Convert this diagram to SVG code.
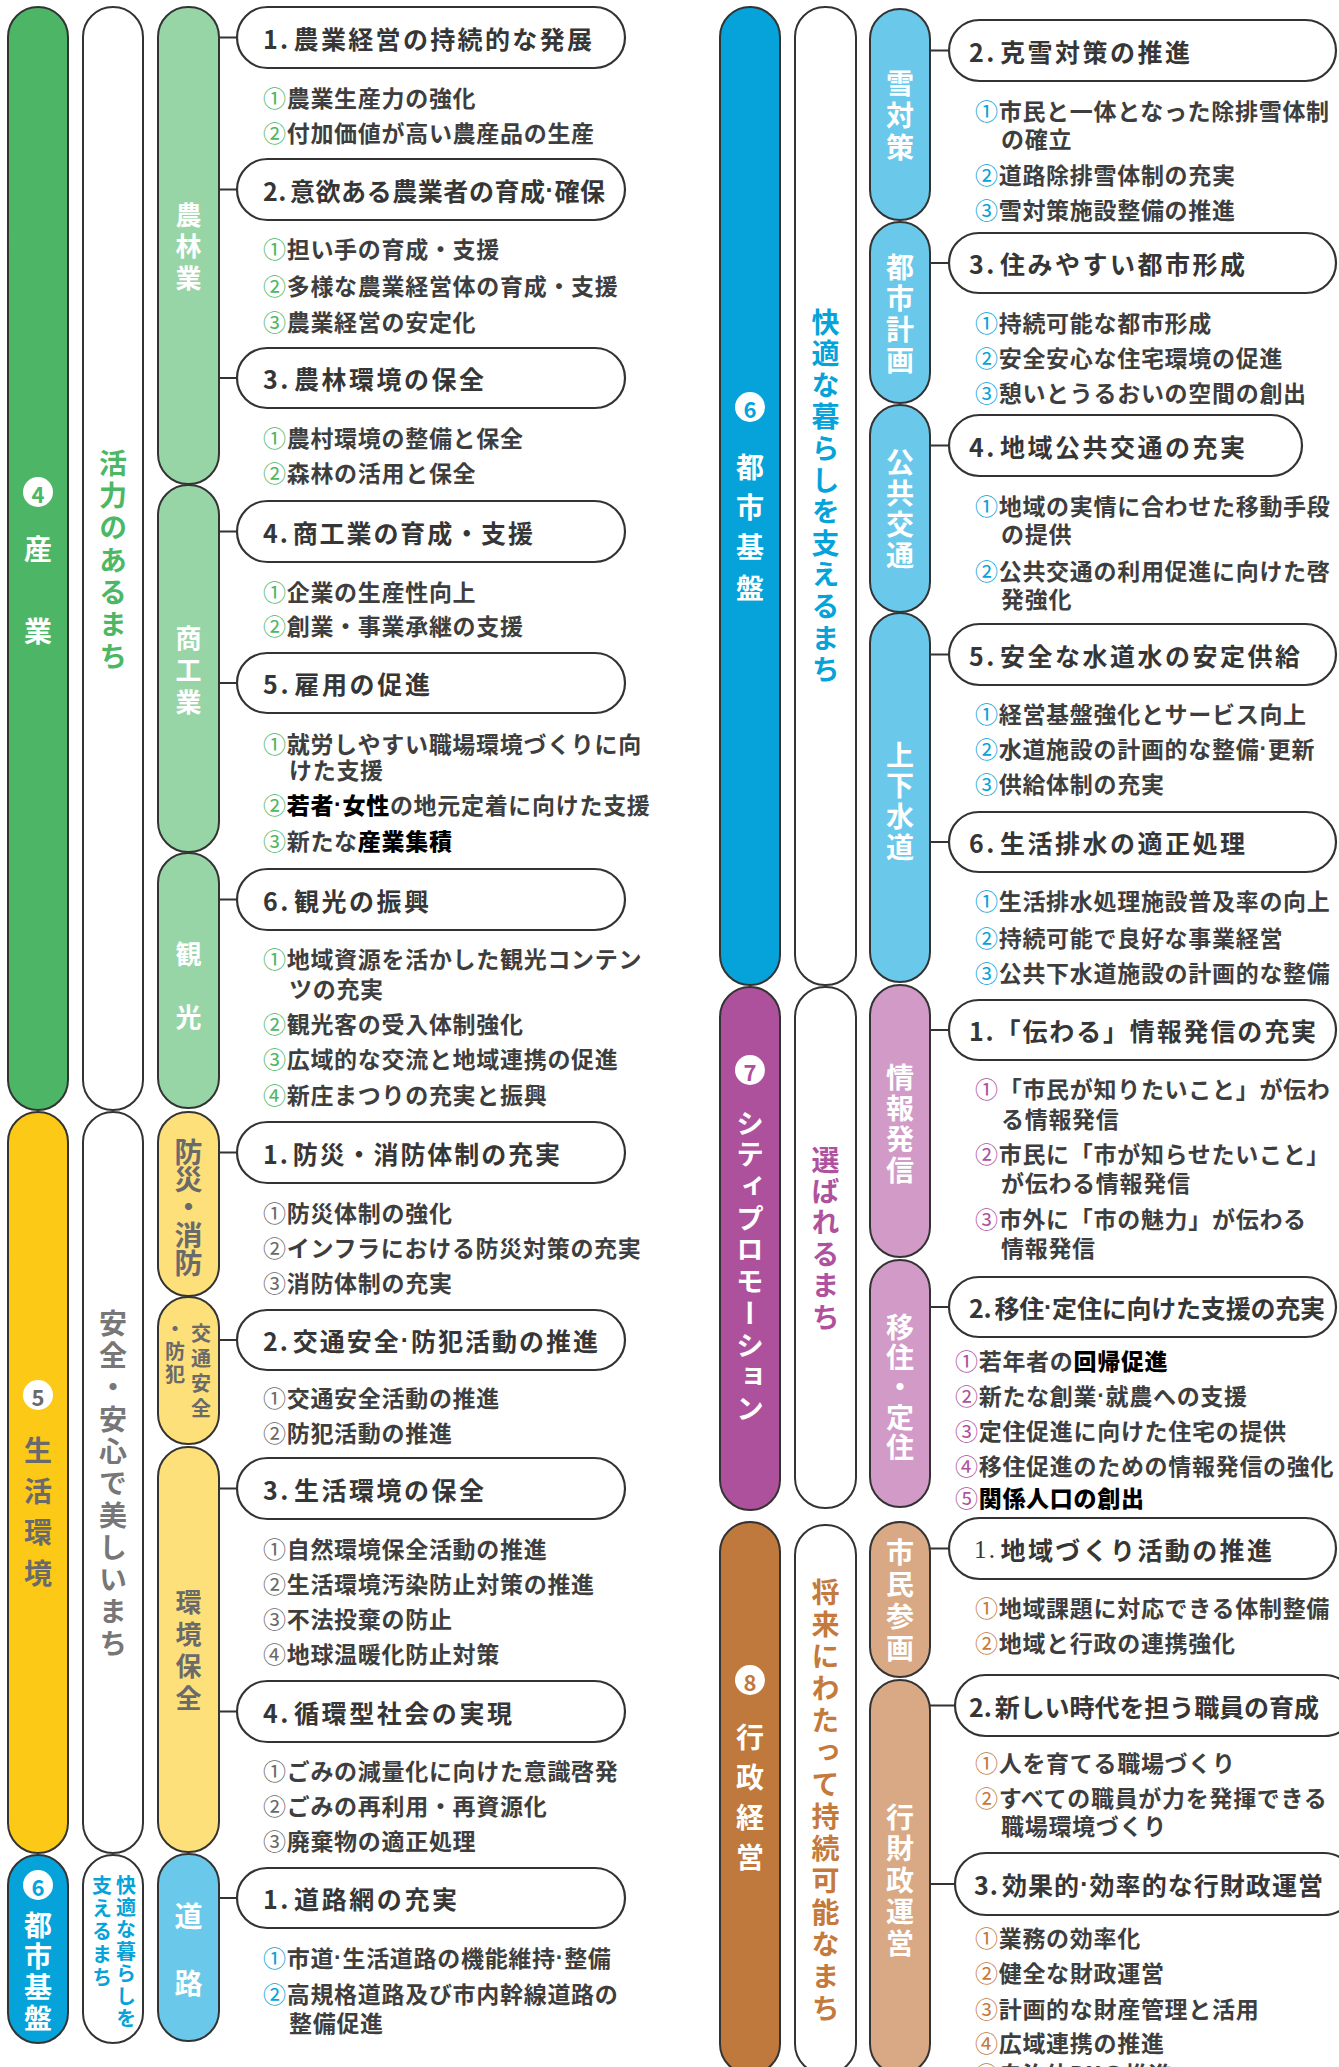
<svg xmlns="http://www.w3.org/2000/svg" width="1339" height="2067" viewBox="0 0 1339 2067">
<style>
text{font-family:"Noto Sans CJK JP","Noto Sans",sans-serif;}
.pill{stroke:#333;stroke-width:2;}
.box{fill:#fff;stroke:#333;stroke-width:2.2;}
.con{stroke:#333;stroke-width:2.2;fill:none;}
.t{font-size:25px;font-weight:700;fill:#363636;dominant-baseline:central;}
.i{font-size:23px;font-weight:700;fill:#3e3e3e;letter-spacing:0.7px;dominant-baseline:central;}
.hb{fill:#000;font-weight:900;}
.cn{font-weight:400;}
.nd{font-family:"Liberation Sans",sans-serif;font-weight:700;}
.g{fill:#4cb765;} .gy{fill:#6a6a6a;} .b{fill:#05a3da;} .p{fill:#b0519e;} .o{fill:#c47a3c;}
.v{writing-mode:vertical-rl;font-weight:700;}
.c{font-weight:700;text-anchor:middle;dominant-baseline:central;}
.w{fill:#fff;}
.num{font-size:22px;font-weight:700;text-anchor:middle;dominant-baseline:central;}
</style>

<!-- ===== LEFT COLUMN PILLS ===== -->
<g id="sec4">
<rect class="pill" x="8" y="7" width="60" height="1103" rx="30" fill="#4db666"/>
<circle cx="38" cy="492" r="15" fill="#fff"/>
<text class="num" x="38" y="493" fill="#4db666">4</text>
<text class="c w" x="38" y="548" font-size="28">産</text>
<text class="c w" x="38" y="630" font-size="28">業</text>
</g>
<g id="goal4">
<rect class="pill" x="83" y="7" width="60" height="1103" rx="30" fill="#fff"/>
<text class="v g" x="113" y="449" font-size="28" letter-spacing="4.3">活力のあるまち</text>
</g>
<g id="noringyo">
<rect class="pill" x="158" y="7" width="61" height="477" rx="30" fill="#98d5a6"/>
<text class="v w" x="188.5" y="202" font-size="26" letter-spacing="5.5">農林業</text>
</g>
<g id="shokogyo">
<rect class="pill" x="158" y="485" width="61" height="367" rx="30" fill="#98d5a6"/>
<text class="v w" x="188.5" y="625" font-size="26" letter-spacing="6">商工業</text>
</g>
<g id="kanko">
<rect class="pill" x="158" y="853" width="61" height="255" rx="30" fill="#98d5a6"/>
<text class="c w" x="188.5" y="952" font-size="26">観</text>
<text class="c w" x="188.5" y="1015" font-size="26">光</text>
</g>

<g id="sec5">
<rect class="pill" x="8" y="1112" width="60" height="741" rx="30" fill="#fdc917"/>
<circle cx="38" cy="1395" r="15" fill="#fff"/>
<text class="num" x="38" y="1396" fill="#6a6a6a">5</text>
<text class="v gy" x="38" y="1436" font-size="28" letter-spacing="13">生活環境</text>
</g>
<g id="goal5">
<rect class="pill" x="83" y="1112" width="60" height="741" rx="30" fill="#fff"/>
<text class="v" x="113" y="1309" font-size="28" letter-spacing="4" fill="#777">安全・安心で美しいまち</text>
</g>
<g id="bosai">
<rect class="pill" x="158" y="1112" width="61" height="184" rx="30" fill="#fde07a"/>
<text class="v gy" x="188.5" y="1138" font-size="28" letter-spacing="-0.25">防災・消防</text>
</g>
<g id="kotsu">
<rect class="pill" x="158" y="1297" width="61" height="147" rx="30" fill="#fde07a"/>
<text class="v gy" x="201" y="1323" font-size="20" letter-spacing="5">交通安全</text>
<text class="v gy" x="175" y="1318" font-size="20" letter-spacing="3">・防犯</text>
</g>
<g id="kankyo">
<rect class="pill" x="158" y="1447" width="61" height="405" rx="30" fill="#fde07a"/>
<text class="v gy" x="188.5" y="1589" font-size="26" letter-spacing="6">環境保全</text>
</g>

<g id="sec6L">
<rect class="pill" x="8" y="1855" width="60" height="188" rx="30" fill="#05a3da"/>
<circle cx="38" cy="1885" r="15" fill="#fff"/>
<text class="num" x="38" y="1886" fill="#05a3da">6</text>
<text class="v w" x="38" y="1911" font-size="28" letter-spacing="3">都市基盤</text>
</g>
<g id="goal6L">
<rect class="pill" x="83" y="1855" width="60" height="188" rx="30" fill="#fff"/>
<text class="v b" x="126" y="1875" font-size="20" letter-spacing="2.2">快適な暮らしを</text>
<text class="v b" x="102" y="1875" font-size="20" letter-spacing="3">支えるまち</text>
</g>
<g id="doro">
<rect class="pill" x="158" y="1854" width="61" height="187" rx="30" fill="#6ac9eb"/>
<text class="c w" x="188.5" y="1915" font-size="28">道</text>
<text class="c w" x="188.5" y="1982" font-size="28">路</text>
</g>

<!-- ===== RIGHT COLUMN PILLS ===== -->
<g id="sec6R">
<rect class="pill" x="720" y="7" width="60" height="978" rx="30" fill="#05a3da"/>
<circle cx="750" cy="407" r="15" fill="#fff"/>
<text class="num" x="750" y="408" fill="#05a3da">6</text>
<text class="v w" x="750" y="453" font-size="28" letter-spacing="12.3">都市基盤</text>
</g>
<g id="goal6R">
<rect class="pill" x="795" y="7" width="61" height="978" rx="30" fill="#fff"/>
<text class="v b" x="825.5" y="308" font-size="28" letter-spacing="3.6">快適な暮らしを支えるまち</text>
</g>
<g id="yuki">
<rect class="pill" x="870" y="9" width="60" height="211" rx="30" fill="#6ac9eb"/>
<text class="v w" x="900" y="69" font-size="28" letter-spacing="4">雪対策</text>
</g>
<g id="toshi">
<rect class="pill" x="870" y="222" width="60" height="181" rx="30" fill="#6ac9eb"/>
<text class="v w" x="900" y="253" font-size="28" letter-spacing="3">都市計画</text>
</g>
<g id="kokyo">
<rect class="pill" x="870" y="405" width="60" height="207" rx="30" fill="#6ac9eb"/>
<text class="v w" x="900" y="448" font-size="28" letter-spacing="3">公共交通</text>
</g>
<g id="suido">
<rect class="pill" x="870" y="613" width="60" height="369" rx="30" fill="#6ac9eb"/>
<text class="v w" x="900" y="741" font-size="28" letter-spacing="2.7">上下水道</text>
</g>

<g id="sec7">
<rect class="pill" x="720" y="987" width="60" height="523" rx="30" fill="#ae519d"/>
<circle cx="750" cy="1070" r="15" fill="#fff"/>
<text class="num" x="750" y="1071" fill="#ae519d">7</text>
<text class="v w" x="750" y="1109" font-size="28" letter-spacing="3.7">シティプロモーション</text>
</g>
<g id="goal7">
<rect class="pill" x="795" y="987" width="61" height="521" rx="30" fill="#fff"/>
<text class="v p" x="825.5" y="1146" font-size="28" letter-spacing="3.4">選ばれるまち</text>
</g>
<g id="joho">
<rect class="pill" x="870" y="985" width="60" height="272" rx="30" fill="#d29ac7"/>
<text class="v w" x="900" y="1063" font-size="28" letter-spacing="3">情報発信</text>
</g>
<g id="iju">
<rect class="pill" x="870" y="1260" width="60" height="247" rx="30" fill="#d29ac7"/>
<text class="v w" x="900" y="1313" font-size="28" letter-spacing="2.2">移住・定住</text>
</g>

<g id="sec8">
<rect class="pill" x="720" y="1522" width="60" height="552" rx="30" fill="#c0793c"/>
<circle cx="750" cy="1680" r="15" fill="#fff"/>
<text class="num" x="750" y="1681" fill="#c0793c">8</text>
<text class="v w" x="750" y="1723" font-size="28" letter-spacing="12">行政経営</text>
</g>
<g id="goal8">
<rect class="pill" x="795" y="1525" width="61" height="549" rx="30" fill="#fff"/>
<text class="v o" x="825.5" y="1578" font-size="28" letter-spacing="4">将来にわたって持続可能なまち</text>
</g>
<g id="shimin">
<rect class="pill" x="870" y="1522" width="60" height="155" rx="30" fill="#d9a985"/>
<text class="v w" x="900" y="1538" font-size="28" letter-spacing="4">市民参画</text>
</g>
<g id="gyozai">
<rect class="pill" x="870" y="1680" width="60" height="394" rx="30" fill="#d9a985"/>
<text class="v w" x="900" y="1803" font-size="28" letter-spacing="3.5">行財政運営</text>
</g>

<!-- ===== CONNECTORS ===== -->
<g id="connectors">
<path class="con" d="M219 37.5H237M219 189.5H237M219 378H237M219 531.5H237M219 683H237M219 899.5H237M219 1152.5H237M219 1340H237M219 1488.5H237M219 1711.5H237M219 1898H237"/>
<path class="con" d="M930 50.5H949M930 263H949M930 445.5H949M930 654.5H949M930 842H949M930 1030H949M930 1307H949M930 1548.5H949M930 1705.5H955M930 1884H955"/>
</g>

<!-- ===== LEFT BOXES + ITEMS ===== -->
<g id="L1"><rect class="box" x="237" y="7" width="388" height="61" rx="30.5"/>
<text class="t" x="263" y="38" textLength="329" lengthAdjust="spacing">1.<tspan dx="3">農業経営の持続的な発展</tspan></text></g>
<g id="L1items">
<text class="i" x="263" y="97"><tspan class="g cn">①</tspan>農業生産力の強化</text>
<text class="i" x="263" y="132"><tspan class="g cn">②</tspan>付加価値が高い農産品の生産</text>
</g>
<g id="L2"><rect class="box" x="237" y="159" width="388" height="61" rx="30.5"/>
<text class="t" x="263" y="190" textLength="342" lengthAdjust="spacing">2.<tspan dx="3">意欲ある農業者の育成</tspan><tspan class="nd">·</tspan>確保</text></g>
<g id="L2items">
<text class="i" x="263" y="248"><tspan class="g cn">①</tspan>担い手の育成・支援</text>
<text class="i" x="263" y="285"><tspan class="g cn">②</tspan>多様な農業経営体の育成・支援</text>
<text class="i" x="263" y="321"><tspan class="g cn">③</tspan>農業経営の安定化</text>
</g>
<g id="L3"><rect class="box" x="237" y="348" width="388" height="60" rx="30"/>
<text class="t" x="263" y="378" textLength="221" lengthAdjust="spacing">3.<tspan dx="3">農林環境の保全</tspan></text></g>
<g id="L3items">
<text class="i" x="263" y="437"><tspan class="g cn">①</tspan>農村環境の整備と保全</text>
<text class="i" x="263" y="472"><tspan class="g cn">②</tspan>森林の活用と保全</text>
</g>
<g id="L4"><rect class="box" x="237" y="501" width="388" height="61" rx="30.5"/>
<text class="t" x="263" y="532" textLength="270" lengthAdjust="spacing">4.<tspan dx="3">商工業の育成・支援</tspan></text></g>
<g id="L4items">
<text class="i" x="263" y="591"><tspan class="g cn">①</tspan>企業の生産性向上</text>
<text class="i" x="263" y="625"><tspan class="g cn">②</tspan>創業・事業承継の支援</text>
</g>
<g id="L5"><rect class="box" x="237" y="653" width="388" height="60" rx="30"/>
<text class="t" x="263" y="683" textLength="167" lengthAdjust="spacing">5.<tspan dx="3">雇用の促進</tspan></text></g>
<g id="L5items">
<text class="i" x="263" y="743"><tspan class="g cn">①</tspan>就労しやすい職場環境づくりに向</text>
<text class="i" x="289" y="769">けた支援</text>
<text class="i" x="263" y="804"><tspan class="g cn">②</tspan><tspan class="hb">若者<tspan class="nd">·</tspan>女性</tspan>の地元定着に向けた支援</text>
<text class="i" x="263" y="840"><tspan class="g cn">③</tspan>新たな<tspan class="hb">産業集積</tspan></text>
</g>
<g id="L6"><rect class="box" x="237" y="869" width="388" height="61" rx="30.5"/>
<text class="t" x="263" y="900" textLength="166" lengthAdjust="spacing">6.<tspan dx="3">観光の振興</tspan></text></g>
<g id="L6items">
<text class="i" x="263" y="958"><tspan class="g cn">①</tspan>地域資源を活かした観光コンテン</text>
<text class="i" x="289" y="988">ツの充実</text>
<text class="i" x="263" y="1023"><tspan class="g cn">②</tspan>観光客の受入体制強化</text>
<text class="i" x="263" y="1058"><tspan class="g cn">③</tspan>広域的な交流と地域連携の促進</text>
<text class="i" x="263" y="1094"><tspan class="g cn">④</tspan>新庄まつりの充実と振興</text>
</g>
<g id="L7"><rect class="box" x="237" y="1122" width="388" height="61" rx="30.5"/>
<text class="t" x="263" y="1153" textLength="297" lengthAdjust="spacing">1.<tspan dx="3">防災・消防体制の充実</tspan></text></g>
<g id="L7items">
<text class="i" x="263" y="1212"><tspan class="gy cn">①</tspan>防災体制の強化</text>
<text class="i" x="263" y="1247"><tspan class="gy cn">②</tspan>インフラにおける防災対策の充実</text>
<text class="i" x="263" y="1282"><tspan class="gy cn">③</tspan>消防体制の充実</text>
</g>
<g id="L8"><rect class="box" x="237" y="1310" width="388" height="60" rx="30"/>
<text class="t" x="263" y="1340" textLength="335" lengthAdjust="spacing">2.<tspan dx="3">交通安全</tspan><tspan class="nd">·</tspan>防犯活動の推進</text></g>
<g id="L8items">
<text class="i" x="263" y="1397"><tspan class="gy cn">①</tspan>交通安全活動の推進</text>
<text class="i" x="263" y="1432"><tspan class="gy cn">②</tspan>防犯活動の推進</text>
</g>
<g id="L9"><rect class="box" x="237" y="1458" width="388" height="61" rx="30.5"/>
<text class="t" x="263" y="1489" textLength="221" lengthAdjust="spacing">3.<tspan dx="3">生活環境の保全</tspan></text></g>
<g id="L9items">
<text class="i" x="263" y="1548"><tspan class="gy cn">①</tspan>自然環境保全活動の推進</text>
<text class="i" x="263" y="1583"><tspan class="gy cn">②</tspan>生活環境汚染防止対策の推進</text>
<text class="i" x="263" y="1618"><tspan class="gy cn">③</tspan>不法投棄の防止</text>
<text class="i" x="263" y="1653"><tspan class="gy cn">④</tspan>地球温暖化防止対策</text>
</g>
<g id="L10"><rect class="box" x="237" y="1681" width="388" height="61" rx="30.5"/>
<text class="t" x="263" y="1712" textLength="249" lengthAdjust="spacing">4.<tspan dx="3">循環型社会の実現</tspan></text></g>
<g id="L10items">
<text class="i" x="263" y="1770"><tspan class="gy cn">①</tspan>ごみの減量化に向けた意識啓発</text>
<text class="i" x="263" y="1805"><tspan class="gy cn">②</tspan>ごみの再利用・再資源化</text>
<text class="i" x="263" y="1840"><tspan class="gy cn">③</tspan>廃棄物の適正処理</text>
</g>
<g id="L11"><rect class="box" x="237" y="1868" width="388" height="60" rx="30"/>
<text class="t" x="263" y="1898" textLength="194" lengthAdjust="spacing">1.<tspan dx="3">道路網の充実</tspan></text></g>
<g id="L11items">
<text class="i" x="263" y="1957"><tspan class="b cn">①</tspan>市道<tspan class="nd">·</tspan>生活道路の機能維持<tspan class="nd">·</tspan>整備</text>
<text class="i" x="263" y="1993"><tspan class="b cn">②</tspan>高規格道路及び市内幹線道路の</text>
<text class="i" x="289" y="2022">整備促進</text>
</g>

<!-- ===== RIGHT BOXES + ITEMS ===== -->
<g id="R2"><rect class="box" x="949" y="20" width="387" height="61" rx="30.5"/>
<text class="t" x="969" y="51" textLength="221" lengthAdjust="spacing">2.<tspan dx="3">克雪対策の推進</tspan></text></g>
<g id="R2items">
<text class="i" x="975" y="110"><tspan class="b cn">①</tspan>市民と一体となった除排雪体制</text>
<text class="i" x="1001" y="138">の確立</text>
<text class="i" x="975" y="174"><tspan class="b cn">②</tspan>道路除排雪体制の充実</text>
<text class="i" x="975" y="209"><tspan class="b cn">③</tspan>雪対策施設整備の推進</text>
</g>
<g id="R3"><rect class="box" x="949" y="233" width="387" height="60" rx="30"/>
<text class="t" x="969" y="263" textLength="276" lengthAdjust="spacing">3.<tspan dx="3">住みやすい都市形成</tspan></text></g>
<g id="R3items">
<text class="i" x="975" y="322"><tspan class="b cn">①</tspan>持続可能な都市形成</text>
<text class="i" x="975" y="357"><tspan class="b cn">②</tspan>安全安心な住宅環境の促進</text>
<text class="i" x="975" y="392"><tspan class="b cn">③</tspan>憩いとうるおいの空間の創出</text>
</g>
<g id="R4"><rect class="box" x="949" y="415" width="353" height="61" rx="30.5"/>
<text class="t" x="969" y="446" textLength="276" lengthAdjust="spacing">4.<tspan dx="3">地域公共交通の充実</tspan></text></g>
<g id="R4items">
<text class="i" x="975" y="505"><tspan class="b cn">①</tspan>地域の実情に合わせた移動手段</text>
<text class="i" x="1001" y="533">の提供</text>
<text class="i" x="975" y="570"><tspan class="b cn">②</tspan>公共交通の利用促進に向けた啓</text>
<text class="i" x="1001" y="598">発強化</text>
</g>
<g id="R5"><rect class="box" x="949" y="624" width="387" height="61" rx="30.5"/>
<text class="t" x="969" y="655" textLength="331" lengthAdjust="spacing">5.<tspan dx="3">安全な水道水の安定供給</tspan></text></g>
<g id="R5items">
<text class="i" x="975" y="713"><tspan class="b cn">①</tspan>経営基盤強化とサービス向上</text>
<text class="i" x="975" y="748"><tspan class="b cn">②</tspan>水道施設の計画的な整備<tspan class="nd">·</tspan>更新</text>
<text class="i" x="975" y="783"><tspan class="b cn">③</tspan>供給体制の充実</text>
</g>
<g id="R6"><rect class="box" x="949" y="812" width="387" height="60" rx="30"/>
<text class="t" x="969" y="842" textLength="276" lengthAdjust="spacing">6.<tspan dx="3">生活排水の適正処理</tspan></text></g>
<g id="R6items">
<text class="i" x="975" y="900"><tspan class="b cn">①</tspan>生活排水処理施設普及率の向上</text>
<text class="i" x="975" y="937"><tspan class="b cn">②</tspan>持続可能で良好な事業経営</text>
<text class="i" x="975" y="972"><tspan class="b cn">③</tspan>公共下水道施設の計画的な整備</text>
</g>
<g id="R7"><rect class="box" x="949" y="1000" width="387" height="60" rx="30"/>
<text class="t" x="969" y="1030" textLength="347" lengthAdjust="spacing">1.「伝わる」情報発信の充実</text></g>
<g id="R7items">
<text class="i" x="975" y="1088"><tspan class="p cn">①</tspan>「市民が知りたいこと」が伝わ</text>
<text class="i" x="1001" y="1118">る情報発信</text>
<text class="i" x="975" y="1153"><tspan class="p cn">②</tspan>市民に「市が知らせたいこと」</text>
<text class="i" x="1001" y="1182">が伝わる情報発信</text>
<text class="i" x="975" y="1218"><tspan class="p cn">③</tspan>市外に「市の魅力」が伝わる</text>
<text class="i" x="1001" y="1247">情報発信</text>
</g>
<g id="R8"><rect class="box" x="949" y="1277" width="387" height="60" rx="30"/>
<text class="t" x="969" y="1307" textLength="356" lengthAdjust="spacing">2.<tspan dx="3">移住</tspan><tspan class="nd">·</tspan>定住に向けた支援の充実</text></g>
<g id="R8items">
<text class="i" x="955" y="1360"><tspan class="p cn">①</tspan>若年者の<tspan class="hb">回帰促進</tspan></text>
<text class="i" x="955" y="1395"><tspan class="p cn">②</tspan>新たな創業<tspan class="nd">·</tspan>就農への支援</text>
<text class="i" x="955" y="1430"><tspan class="p cn">③</tspan>定住促進に向けた住宅の提供</text>
<text class="i" x="955" y="1465"><tspan class="p cn">④</tspan>移住促進のための情報発信の強化</text>
<text class="i" x="955" y="1497"><tspan class="p cn">⑤</tspan><tspan class="hb">関係人口の創出</tspan></text>
</g>
<g id="R9"><rect class="box" x="949" y="1518" width="387" height="61" rx="30.5"/>
<text class="t" x="974" y="1549" textLength="298" lengthAdjust="spacing"><tspan font-family="Liberation Serif" font-weight="400">1.</tspan><tspan dx="3">地域づくり活動の推進</tspan></text></g>
<g id="R9items">
<text class="i" x="975" y="1607"><tspan class="o cn">①</tspan>地域課題に対応できる体制整備</text>
<text class="i" x="975" y="1642"><tspan class="o cn">②</tspan>地域と行政の連携強化</text>
</g>
<g id="R10"><rect class="box" x="955" y="1675" width="400" height="61" rx="30.5"/>
<text class="t" x="969" y="1706" textLength="350" lengthAdjust="spacing">2.<tspan dx="3">新しい時代を担う職員の育成</tspan></text></g>
<g id="R10items">
<text class="i" x="975" y="1762"><tspan class="o cn">①</tspan>人を育てる職場づくり</text>
<text class="i" x="975" y="1797"><tspan class="o cn">②</tspan>すべての職員が力を発揮できる</text>
<text class="i" x="1001" y="1825">職場環境づくり</text>
</g>
<g id="R11"><rect class="box" x="955" y="1853" width="400" height="62" rx="31"/>
<text class="t" x="974" y="1884" textLength="349" lengthAdjust="spacing">3.<tspan dx="3">効果的</tspan><tspan class="nd">·</tspan>効率的な行財政運営</text></g>
<g id="R11items">
<text class="i" x="975" y="1937"><tspan class="o cn">①</tspan>業務の効率化</text>
<text class="i" x="975" y="1972"><tspan class="o cn">②</tspan>健全な財政運営</text>
<text class="i" x="975" y="2008"><tspan class="o cn">③</tspan>計画的な財産管理と活用</text>
<text class="i" x="975" y="2042"><tspan class="o cn">④</tspan>広域連携の推進</text>
<text class="i" x="975" y="2073"><tspan class="o cn">⑤</tspan>自治体DXの推進</text>
</g>
</svg>
